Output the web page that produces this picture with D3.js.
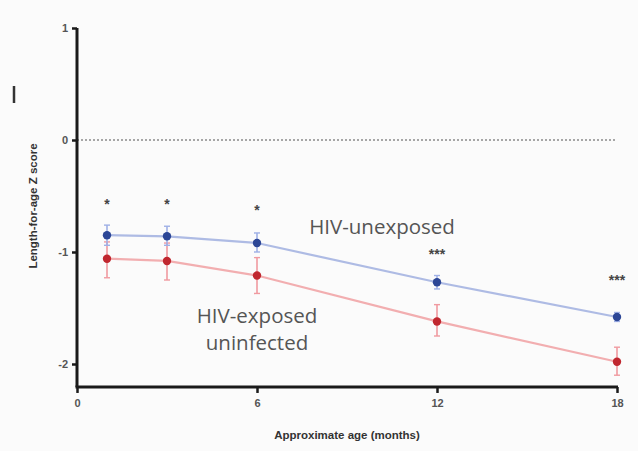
<!DOCTYPE html>
<html><head><meta charset="utf-8">
<script src="https://cdn.jsdelivr.net/npm/d3@7"></script>
<style>
html,body{margin:0;padding:0;background:#fbfbfb;}
svg{display:block;}
</style></head>
<body>
<svg id="chart" width="638" height="451"></svg>
<script>
const ages = [1, 3, 6, 12, 18];
const unexposedMean = [-0.85, -0.86, -0.92, -1.27, -1.58];
const unexposedLo   = [-0.94, -0.94, -1.00, -1.33, -1.62];
const unexposedHi   = [-0.76, -0.77, -0.83, -1.21, -1.54];
const exposedMean   = [-1.06, -1.08, -1.21, -1.62, -1.98];
const exposedLo     = [-1.23, -1.25, -1.37, -1.75, -2.10];
const exposedHi     = [-0.91, -0.92, -1.05, -1.47, -1.85];
const significance  = ["*", "*", "*", "***", "***"];
const sigLevel      = [-0.56, -0.56, -0.62, -1.01, -1.24];
const xTicks = [0, 6, 12, 18];
const yTicks = [1, 0, -1, -2];

const svg = d3.select("#chart");
const x = d3.scaleLinear().domain([0, 18]).range([77, 617]);
const y = d3.scaleLinear().domain([1, -2]).range([28, 364]);
const yBottom = y(-2.205);

const g = svg.append("g");

// reference dotted line at 0
g.append("line").attr("x1", x(0)).attr("x2", x(18)).attr("y1", y(0)).attr("y2", y(0))
  .attr("stroke", "#8a8a8a").attr("stroke-width", 1.3).attr("stroke-dasharray", "2,2");

// axes
const yAxis = d3.axisLeft(y).tickValues(yTicks).tickSize(5).tickPadding(4).tickFormat(d => String(d));
const yg = g.append("g").attr("transform", `translate(${x(0)},0)`).call(yAxis);
yg.select(".domain").remove();
g.append("line").attr("x1", x(0)).attr("x2", x(0)).attr("y1", y(1)).attr("y2", yBottom)
  .attr("stroke", "#1a1a1a").attr("stroke-width", 3);

const xAxis = d3.axisBottom(x).tickValues(xTicks).tickSize(6).tickPadding(6);
const xg = g.append("g").attr("transform", `translate(0,${yBottom})`).call(xAxis);
xg.select(".domain").remove();
g.append("line").attr("x1", x(0) - 1.5).attr("x2", x(18) + 1).attr("y1", yBottom).attr("y2", yBottom)
  .attr("stroke", "#1a1a1a").attr("stroke-width", 3);

[yg, xg].forEach(a => {
  a.selectAll(".tick line").attr("stroke", "#1a1a1a").attr("stroke-width", 2.5);
  a.selectAll(".tick text").attr("fill", "#555").attr("font-family", "Arial, 'Liberation Sans', sans-serif")
    .attr("font-size", 11).attr("font-weight", "bold");
});

// axis titles
g.append("text").attr("x", 347).attr("y", 439).attr("text-anchor", "middle")
  .attr("font-family", "Arial, 'Liberation Sans', sans-serif").attr("font-size", 11.5).attr("font-weight", "bold")
  .attr("fill", "#333").text("Approximate age (months)");
g.append("text").attr("transform", "translate(37,206) rotate(-90)").attr("text-anchor", "middle")
  .attr("font-family", "Arial, 'Liberation Sans', sans-serif").attr("font-size", 11.5).attr("font-weight", "bold")
  .attr("fill", "#333").text("Length-for-age Z score");
g.append("line").attr("x1", 14).attr("x2", 14).attr("y1", 86).attr("y2", 103)
  .attr("stroke", "#333").attr("stroke-width", 2.5);

function drawSeries(mean, lo, hi, lineCol, barCol, dotCol) {
  const pts = ages.map((a, i) => ({a, m: mean[i], lo: lo[i], hi: hi[i]}));
  g.append("path").datum(pts)
    .attr("d", d3.line().x(d => x(d.a)).y(d => y(d.m)))
    .attr("fill", "none").attr("stroke", lineCol).attr("stroke-width", 2.2);
  const eb = g.append("g");
  eb.selectAll("line.v").data(pts).join("line").attr("class", "v")
    .attr("x1", d => x(d.a)).attr("x2", d => x(d.a)).attr("y1", d => y(d.hi)).attr("y2", d => y(d.lo))
    .attr("stroke", barCol).attr("stroke-width", 1.6);
  ["hi", "lo"].forEach(k => {
    eb.selectAll("line." + k).data(pts).join("line").attr("class", k)
      .attr("x1", d => x(d.a) - 3).attr("x2", d => x(d.a) + 3).attr("y1", d => y(d[k])).attr("y2", d => y(d[k]))
      .attr("stroke", barCol).attr("stroke-width", 1.4);
  });
  g.selectAll(null).data(pts).join("circle")
    .attr("cx", d => x(d.a)).attr("cy", d => y(d.m)).attr("r", 4.2).attr("fill", dotCol);
}
drawSeries(exposedMean, exposedLo, exposedHi, "#f2aeb0", "#f09aa0", "#c0272f");
drawSeries(unexposedMean, unexposedLo, unexposedHi, "#aebbe4", "#9fb0e6", "#2c4696");

// significance markers
g.selectAll(null).data(ages).join("text")
  .attr("x", (d, i) => x(d)).attr("y", (d, i) => y(sigLevel[i]) + 6)
  .attr("text-anchor", "middle").attr("font-family", "Arial, 'Liberation Sans', sans-serif")
  .attr("font-size", 14).attr("font-weight", "bold").attr("fill", "#444")
  .text((d, i) => significance[i]);

// series labels
const lab = {"font-family": "'Open Sans', 'Noto Sans', sans-serif", "font-size": 20.5, "fill": "#555"};
function label(t, xx, yy) {
  const tx = g.append("text").attr("x", xx).attr("y", yy).attr("text-anchor", "middle").text(t);
  Object.entries(lab).forEach(([k, v]) => tx.attr(k, v));
}
label("HIV-unexposed", 382, 234);
label("HIV-exposed", 257, 323);
label("uninfected", 257, 350);
</script>
</body></html>
